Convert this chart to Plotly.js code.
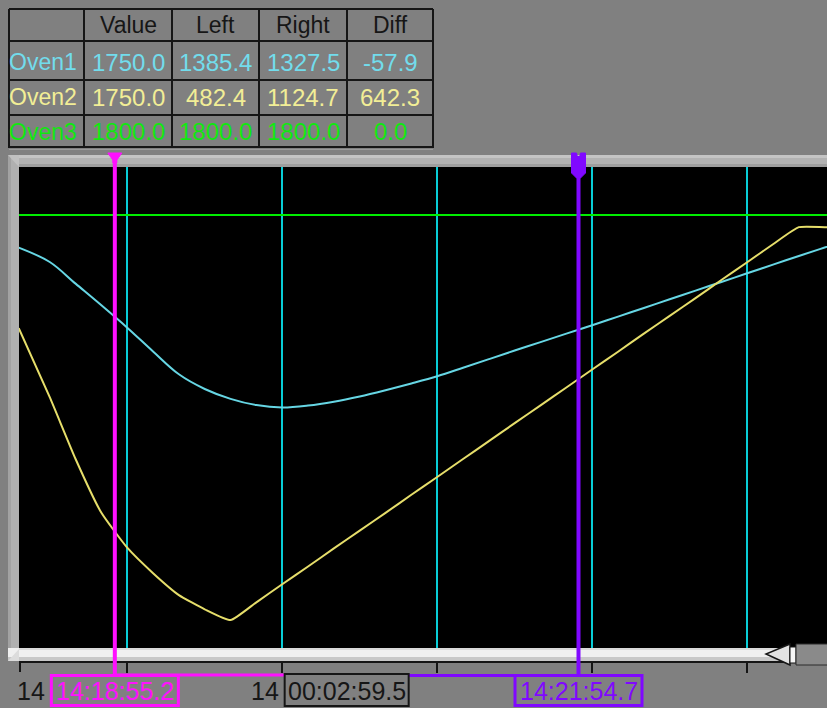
<!DOCTYPE html>
<html>
<head>
<meta charset="utf-8">
<script src="https://cdn.plot.ly/plotly-3.0.1.min.js"></script>
<style>html,body{margin:0;padding:0;background:#808080;overflow:hidden}</style>
</head>
<body>
<div id="chart" style="width:827px;height:708px"></div>
<script>
// ---------------- data ----------------
const DAY = '2024-01-01 ';
const sampleTimes = ['14:18:18','14:18:30','14:18:40','14:18:50','14:19:00','14:19:10','14:19:20','14:19:30','14:19:40','14:19:50','14:20:00','14:20:10','14:20:20','14:20:30','14:20:40','14:20:50','14:21:00','14:21:10','14:21:20','14:21:30','14:21:40','14:21:50','14:22:00','14:22:10','14:22:20','14:22:30','14:22:40','14:22:50','14:23:00','14:23:10','14:23:20','14:23:30','14:23:40'];
const oven1 = [1665,1605,1515,1425,1332,1233,1138,1077,1036,1010,1000,1008,1024,1046,1072,1100,1130,1165,1201,1237,1272,1307,1342,1378,1414,1450,1486,1522,1558,1594,1630,1665,1700];
const oven2 = [1330,1043,786,562,417,311,220,161,116,190,265,339,414,488,562,637,711,786,860,935,1009,1083,1158,1232,1307,1381,1455,1530,1604,1679,1750,1750,1750];
const oven3 = [1800,1800,1800,1800,1800,1800,1800,1800,1800,1800,1800,1800,1800,1800,1800,1800,1800,1800,1800,1800,1800,1800,1800,1800,1800,1800,1800,1800,1800,1800,1800,1800,1800];

const seriesNames = ['Oven1','Oven2','Oven3'];
const colHeaders = ['Value','Left','Right','Diff'];
const valueCol = [1750.0, 1750.0, 1800.0];
const leftCol  = [1385.4, 482.4, 1800.0];
const rightCol = [1327.5, 1124.7, 1800.0];
const diffCol  = [-57.9, 642.3, 0.0];

const leftCursor = '14:18:55.2';
const rightCursor = '14:21:54.7';
const axisLabelText = ['14','14'];
const xRange = ['14:18:18.1','14:23:30.9'];
const yRange = [0, 2000];
const gridStart = '14:19:00';

// ---------------- styles ----------------
const W = 827, H = 708;
const px = x => x / W, py = y => (H - y) / H;
const FONT = 'Liberation Sans, Arial, sans-serif';
const rowColors = ['#72dcec', '#f2ee96', '#10e810'];
const lineColors = ['#66d6e4', '#e6de6a', '#00ee00'];
const MAG = '#ff10ff', PUR = '#8008ff', DARK = '#161616';

const toSec = s => { const p = s.split(':').map(Number); return p[0]*3600 + p[1]*60 + p[2]; };
const pad2 = n => String(n).padStart(2, '0');
const fmt = (v, dec) => { const h = Math.floor(v/3600), m = Math.floor((v%3600)/60); const s = v - h*3600 - m*60; return pad2(h)+':'+pad2(m)+':'+s.toFixed(dec).padStart(dec ? dec+3 : 2, '0'); };
const midTime = fmt((toSec(leftCursor) + toSec(rightCursor)) / 2, 2);
const deltaText = fmt(toSec(rightCursor) - toSec(leftCursor), 1);

// ---------------- traces ----------------
const xs = sampleTimes.map(t => DAY + t);
const shapesOf = ['spline', 'spline', 'linear'];
const traces = [oven1, oven2, oven3].map((ys, i) => ({
  type: 'scatter', mode: 'lines', x: xs, y: ys, name: seriesNames[i],
  line: {color: lineColors[i], width: 2, shape: shapesOf[i], smoothing: i === 1 ? 0.45 : 1.0}, hoverinfo: 'skip'
}));

// ---------------- shapes ----------------
const shapes = [];
function rect(x0, y0, x1, y1, fill, lc, lw) {
  shapes.push({type:'rect', xref:'paper', yref:'paper', x0:px(x0), x1:px(x1), y0:py(y1), y1:py(y0),
    fillcolor: fill, line:{color: lc || fill, width: lw || 0}, layer:'above'});
}
function seg(x0, y0, x1, y1, color, w) {
  shapes.push({type:'line', xref:'paper', yref:'paper', x0:px(x0), x1:px(x1), y0:py(y0), y1:py(y1),
    line:{color: color, width: w}, layer:'above'});
}
function poly(pts, fill, lc, lw) {
  const d = pts.map((p, i) => (i ? 'L' : 'M') + px(p[0]) + ',' + py(p[1])).join(' ') + ' Z';
  shapes.push({type:'path', xref:'paper', yref:'paper', path: d, fillcolor: fill, line:{color: lc || fill, width: lw || 0}, layer:'above'});
}

// bevel frame around the plot
rect(8, 155, 827, 167, '#b2b2b2');
rect(8, 155, 827, 158, '#c4c4c4');
rect(19, 164, 827, 167, '#9e9e9e');
rect(8, 155, 19, 661, '#b0b0b0');
rect(8, 155, 11, 661, '#a2a2a2');
poly([[8,155],[19,155],[19,167]], '#c0c0c0');
// scroll bar
rect(8, 648, 792, 661, '#f0f0f0');
rect(19, 648, 792, 650, '#dadada');
rect(8, 657, 792, 661, '#c8c8c8');
poly([[8,661],[19,649],[19,661]], '#dcdcdc');
seg(19, 662, 792, 662, DARK, 2);
seg(20, 662, 20, 672, DARK, 2);
poly([[790,644],[766,654],[790,665]], '#e2e2e2', DARK, 1.5);
rect(790, 647, 796, 663, '#f6f6f6', DARK, 1);
rect(796, 644, 828, 665, '#8a8a8a', '#2a2a2a', 1);

// table grid
const tableCols = [9, 84, 172, 259, 347, 433];
const tableRows = [9, 41, 80, 115, 147];
tableCols.forEach(x => seg(x, 9, x, 148, DARK, 2));
tableRows.forEach(y => seg(9, y, 433, y, DARK, 2));
seg(9, 149.5, 433, 149.5, '#9a9a9a', 1);

// cursors
function cursorShapes(t, color, marker) {
  const xt = DAY + t;
  shapes.push({type:'line', xref:'x', yref:'paper', x0:xt, x1:xt, y0:py(156), y1:py(675), line:{color, width:4}, layer:'above'});
  shapes.push({type:'path', xref:'x', yref:'paper', xsizemode:'pixel', ysizemode:'pixel', xanchor:xt, yanchor:py(153),
    path: marker, fillcolor: color, line:{color, width:1}, layer:'above'});
  shapes.push({type:'rect', xref:'x', yref:'paper', xsizemode:'pixel', xanchor:xt, x0:-63.5, x1:63.5,
    y0:py(705.5), y1:py(675.5), fillcolor:'rgba(0,0,0,0)', line:{color, width:3}, layer:'above'});
}
// connectors
shapes.push({type:'line', xref:'x', yref:'paper', x0:DAY+leftCursor, x1:DAY+midTime, y0:py(675), y1:py(675), line:{color:MAG, width:3}, layer:'above'});
shapes.push({type:'line', xref:'x', yref:'paper', x0:DAY+midTime, x1:DAY+rightCursor, y0:py(675.5), y1:py(675.5), line:{color:PUR, width:3}, layer:'above'});
cursorShapes(leftCursor, MAG, 'M -7,0 L 7,0 L 2,-7 L 2,-10 L -2,-10 L -2,-7 Z');
cursorShapes(rightCursor, PUR, 'M -7,0 L -2,0 L 0,-9 L 2,0 L 7,0 L 7,-20 L 2,-25 L -2,-25 L -7,-20 Z');
shapes.push({type:'rect', xref:'x', yref:'paper', xsizemode:'pixel', xanchor:DAY+midTime, x0:-62, x1:62,
  y0:py(706), y1:py(674), fillcolor:'#808080', line:{color:DARK, width:2}, layer:'above'});

// ---------------- annotations ----------------
const ann = [];
function txt(x, y, text, color, size, anchor, xref) {
  ann.push({xref: xref ? 'x' : 'paper', yref:'paper', x: xref ? x : px(x), y: py(y), text, showarrow:false,
    xanchor: anchor || 'center', yanchor:'middle', font:{family:FONT, size:size, color}});
}
const colCenters = [128, 215.5, 303, 390];
const rowCenters = [62, 97, 132];
colHeaders.forEach((h, i) => txt(colCenters[i], 25, h, DARK, 23));
seriesNames.forEach((n, r) => {
  txt(7, rowCenters[r], n, rowColors[r], 23, 'left');
  [valueCol, leftCol, rightCol, diffCol].forEach((col, c) => txt(colCenters[c], rowCenters[r], col[r].toFixed(1), rowColors[r], 24));
});
txt(DAY + leftCursor, 691, leftCursor, MAG, 25, 'center', true);
txt(DAY + rightCursor, 691, rightCursor, PUR, 25, 'center', true);
txt(DAY + midTime, 691, deltaText, DARK, 25, 'center', true);
txt(31, 691, axisLabelText[0], DARK, 25);
txt(265, 691, axisLabelText[1], DARK, 25);

// ---------------- layout ----------------
const layout = {
  width: W, height: H,
  margin: {l:0, r:0, t:0, b:0},
  paper_bgcolor: '#808080', plot_bgcolor: '#000000',
  showlegend: false,
  xaxis: {
    type: 'date', domain: [px(19), 1], range: [DAY + xRange[0], DAY + xRange[1]],
    tick0: DAY + gridStart, dtick: 60000, showgrid: true, gridcolor: '#08ccd6', gridwidth: 2,
    showticklabels: false, ticks: 'outside', ticklen: 24, tickwidth: 2, tickcolor: DARK,
    zeroline: false, showline: false, fixedrange: true
  },
  yaxis: {
    domain: [py(648), py(167)], range: yRange, showgrid: false, showticklabels: false,
    zeroline: false, showline: false, ticks: '', fixedrange: true
  },
  shapes, annotations: ann
};
Plotly.newPlot('chart', traces, layout, {staticPlot: true, displayModeBar: false});
</script>
</body>
</html>
